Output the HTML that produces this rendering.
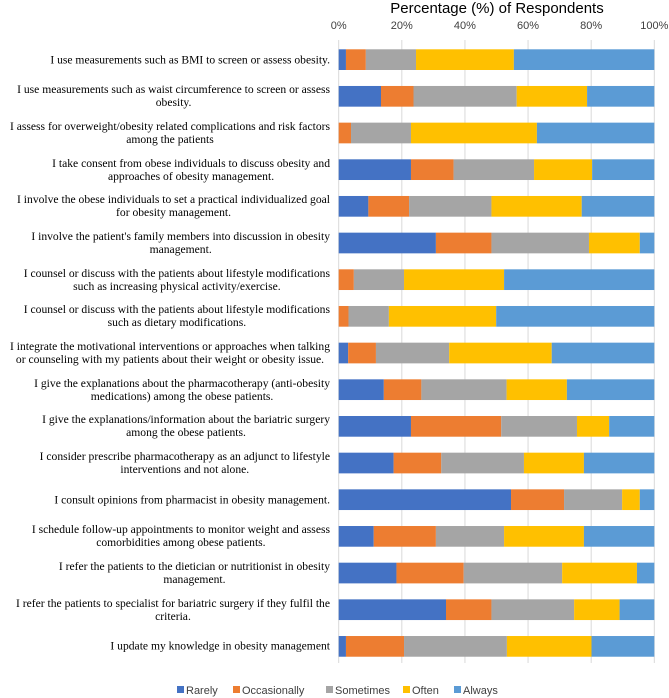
<!DOCTYPE html>
<html><head><meta charset="utf-8"><style>
body{margin:0;background:#fff;width:669px;height:698px;overflow:hidden;position:relative;font-family:"Liberation Sans",sans-serif}
.lab{position:absolute;right:339px;transform:translateY(-50%);font-family:"Liberation Serif",serif;font-size:11.6px;line-height:13px;text-align:center;color:#000;white-space:nowrap}
</style></head><body>
<svg id="chart" width="669" height="698" style="position:absolute;left:0;top:0"></svg>
<div id="labels"></div>
<script>
const categories=[
"I use measurements such as BMI to screen or assess obesity.",
"I use measurements such as waist circumference to screen or assess<br>obesity.",
"I assess for overweight/obesity related complications and risk factors<br>among the patients",
"I take consent from obese individuals to discuss obesity and<br>approaches of obesity management.",
"I involve the obese individuals to set a practical individualized goal<br>for obesity management.",
"I involve the patient's family members into discussion in obesity<br>management.",
"I counsel or discuss with the patients about lifestyle modifications<br>such as increasing physical activity/exercise.",
"I counsel or discuss with the patients about lifestyle modifications<br>such as dietary modifications.",
"I integrate the motivational interventions or approaches when talking<br>or counseling with my patients about their weight or obesity issue.",
"I give the explanations about the pharmacotherapy (anti-obesity<br>medications) among the obese patients.",
"I give the explanations/information about the bariatric surgery<br>among the obese patients.",
"I consider prescribe pharmacotherapy as an adjunct to lifestyle<br>interventions and not alone.",
"I consult opinions from pharmacist in obesity management.",
"I schedule follow-up appointments to monitor weight and assess<br>comorbidities among obese patients.",
"I refer the patients to the dietician or nutritionist in obesity<br>management.",
"I refer the patients to specialist for bariatric surgery if they fulfil the<br>criteria.",
"I update my knowledge in obesity management"];
const rarely=[2.3,13.4,0,22.9,9.4,30.8,0,0,3.0,14.3,22.9,17.4,54.6,11.1,18.3,34.0,2.3];
const occasionally=[6.3,10.3,3.9,13.5,12.9,17.6,4.8,3.1,8.8,11.9,28.6,15.1,16.8,19.7,21.3,14.4,18.4];
const sometimes=[15.9,32.7,19.0,25.5,26.1,30.9,15.9,12.8,23.2,27.0,24.0,26.2,18.4,21.6,31.2,26.2,32.6];
const often=[31.0,22.3,39.9,18.4,28.6,16.1,31.7,34.0,32.5,19.1,10.2,19.0,5.6,25.3,23.7,14.4,26.8];
const always=[44.5,21.3,37.2,19.7,23.0,4.6,47.6,50.1,32.5,27.7,14.3,22.3,4.6,22.3,5.5,11.0,19.9];
const tickLabels=["0%","20%","40%","60%","80%","100%"];
const tickValues=[0,20,40,60,80,100];
const seriesNames=["Rarely","Occasionally","Sometimes","Often","Always"];
const colors=["#4472c4","#ed7d31","#a5a5a5","#ffc000","#5b9bd5"];
const series=[rarely,occasionally,sometimes,often,always];
const X0=338.7,X1=654.3,Y0=49.3,STEP=36.67,BH=20.7;
const x=v=>X0+(X1-X0)*v/100;
const yc=i=>Y0+i*STEP+BH/2;
const svg=document.getElementById('chart');
const NS='http://www.w3.org/2000/svg';
function mk(t,a){const e=document.createElementNS(NS,t);for(const k in a)e.setAttribute(k,a[k]);svg.appendChild(e);return e;}
let t=mk('text',{x:497,y:13,'text-anchor':'middle','font-size':15,fill:'#000','font-family':'Liberation Sans'});
t.textContent='Percentage (%) of Respondents';


tickValues.forEach((v,i)=>{
 const g=mk('line',{x1:x(v),x2:x(v),y1:40,y2:663,stroke:'#d9d9d9','stroke-width':1});
 
 
 const tt=mk('text',{x:x(v),y:29,'text-anchor':'middle','font-size':11,fill:'#404040'});
 tt.textContent=tickLabels[i];
 
 
});
const labDiv=document.getElementById('labels');
categories.forEach((c,i)=>{
 let acc=0;
 series.forEach((s,k)=>{
  const r=mk('rect',{x:x(acc),y:yc(i)-BH/2,width:x(acc+s[i])-x(acc),height:BH,fill:colors[k]});
  
  
  acc+=s[i];
 });
 const d=document.createElement('div');
 d.className='lab';d.style.top=yc(i)+'px';d.innerHTML=c;
 
 
 labDiv.appendChild(d);
});
const legX=[177,233,326,403,454];
seriesNames.forEach((n,k)=>{
 const s=mk('rect',{x:legX[k],y:686,width:7,height:7,fill:colors[k]});
 
 
 const lt=mk('text',{x:legX[k]+9,y:694,'font-size':11,fill:'#404040'});
 lt.textContent=n;
 
 
});
</script>
</body></html>
